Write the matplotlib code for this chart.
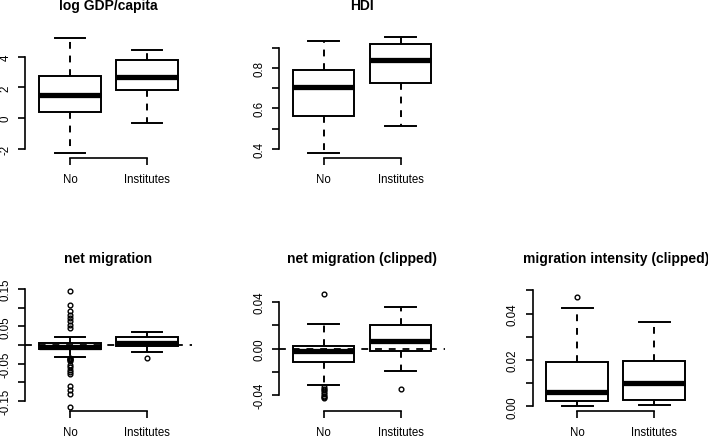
import matplotlib
matplotlib.use('Agg')
import matplotlib.pyplot as plt

plt.rcParams['font.family'] = ['Liberation Sans', 'DejaVu Sans']

groups = ['No', 'Institutes']

# five-number summaries: (whislo, q1, med, q3, whishi)
gdp_no = (-2.30, 0.39, 1.52, 2.73, 5.25)
gdp_inst = (-0.32, 1.82, 2.71, 3.81, 4.42)

hdi_no = (0.379, 0.562, 0.708, 0.791, 0.936)
hdi_inst = (0.515, 0.725, 0.842, 0.920, 0.953)

netmig_no = (-0.0314, -0.0116, -0.0060, 0.0046, 0.0207)
netmig_no_out = [0.146, 0.108, 0.0906, 0.0815, 0.0726, 0.0637, 0.0546, 0.0449,
                 -0.035, -0.037, -0.039, -0.041, -0.043,
                 -0.054, -0.060, -0.066, -0.073, -0.079,
                 -0.111, -0.120, -0.132, -0.166]
netmig_inst = (-0.0180, -0.0018, 0.0054, 0.0207, 0.0360)
netmig_inst_out = [-0.035]

clip_no = (-0.0317, -0.0115, -0.0025, 0.0020, 0.0213)
clip_no_out = [0.0473, -0.0330, -0.0345, -0.0360, -0.0375, -0.0390, -0.0405, -0.0420, -0.0430]
clip_inst = (-0.0195, -0.0020, 0.0061, 0.0199, 0.0360)
clip_inst_out = [-0.0345]

inten_no = (0.0000, 0.0025, 0.0063, 0.0193, 0.0423)
inten_no_out = [0.047]
inten_inst = (0.0004, 0.0029, 0.0103, 0.0197, 0.0363)
inten_inst_out = []

W, H = 708, 439
fig = plt.figure(figsize=(W / 100, H / 100), dpi=100)
fig.patch.set_facecolor('white')

DASH = (0, (3.5, 3.5))


def stat(five, fliers=()):
    lo, q1, med, q3, hi = five
    return dict(whislo=lo, q1=q1, med=med, q3=q3, whishi=hi, fliers=list(fliers))


def make_axes(left, top, w=166.4, h=125):
    return fig.add_axes([left / W, 1 - (top + h) / H, w / W, h / H])


def draw_panel(ax, stats, title, ylim, yticks, ylabels, zero_line=False):
    ax.bxp(stats, positions=[1, 2], widths=0.8, patch_artist=True,
           boxprops=dict(facecolor='white', edgecolor='black', linewidth=1.4),
           medianprops=dict(color='black', linewidth=3.8, solid_capstyle='butt'),
           whiskerprops=dict(color='black', linewidth=1.4, linestyle=DASH),
           capprops=dict(color='black', linewidth=1.4),
           flierprops=dict(marker='o', markersize=3.4, markerfacecolor='none',
                           markeredgecolor='black', markeredgewidth=1.0))
    if zero_line:
        ax.axhline(0, color='black', lw=1.3, linestyle=(0, (3.8, 3.8)), zorder=5)
    ax.set_xlim(0.42, 2.58)
    ax.set_ylim(*ylim)
    ax.set_xticks([1, 2])
    ax.set_xticklabels(groups)
    ax.set_yticks(yticks)
    ax.set_yticklabels(ylabels, rotation=90, va='center')
    for s in ['top', 'right']:
        ax.spines[s].set_visible(False)
    ax.spines['left'].set_bounds(yticks[0], yticks[-1])
    ax.spines['bottom'].set_bounds(1, 2)
    for s in ['left', 'bottom']:
        ax.spines[s].set_linewidth(1.2)
    ax.tick_params(direction='out', length=4.8, width=1.2, labelsize=8.3)
    ax.tick_params(axis='x', pad=6)
    ax.tick_params(axis='y', pad=5)
    ax.annotate(title, xy=(0.5, 1), xycoords='axes fraction', xytext=(0, 20.2),
                textcoords='offset points', ha='center', va='center',
                fontsize=10, fontweight='bold')


cols = [25.3, 278.9, 532.5]
rows = [34, 287]

ax1 = make_axes(cols[0], rows[0])
draw_panel(ax1, [stat(gdp_no), stat(gdp_inst)], 'log GDP/capita',
           (-2.60, 5.55), [-2, 0, 2, 4], ['-2', '0', '2', '4'])

ax2 = make_axes(cols[1], rows[0])
draw_panel(ax2, [stat(hdi_no), stat(hdi_inst)], 'HDI',
           (0.354, 0.974), [0.4, 0.5, 0.6, 0.7, 0.8, 0.9],
           ['0.4', '', '0.6', '', '0.8', ''])

ax3 = make_axes(cols[0], rows[1])
draw_panel(ax3, [stat(netmig_no, netmig_no_out), stat(netmig_inst, netmig_inst_out)],
           'net migration', (-0.1774, 0.1584),
           [-0.15, -0.10, -0.05, 0.0, 0.05, 0.10, 0.15],
           ['-0.15', '', '-0.05', '', '0.05', '', '0.15'], zero_line=True)

ax4 = make_axes(cols[1], rows[1])
draw_panel(ax4, [stat(clip_no, clip_no_out), stat(clip_inst, clip_inst_out)],
           'net migration (clipped)', (-0.0538, 0.0538),
           [-0.04, -0.02, 0.0, 0.02, 0.04],
           ['-0.04', '', '0.00', '', '0.04'], zero_line=True)

ax5 = make_axes(cols[2], rows[1])
draw_panel(ax5, [stat(inten_no, inten_no_out), stat(inten_inst, inten_inst_out)],
           'migration intensity (clipped)', (-0.00198, 0.0519),
           [0.0, 0.01, 0.02, 0.03, 0.04, 0.05],
           ['0.00', '', '0.02', '', '0.04', ''])

fig.savefig('out.png', dpi=100)
